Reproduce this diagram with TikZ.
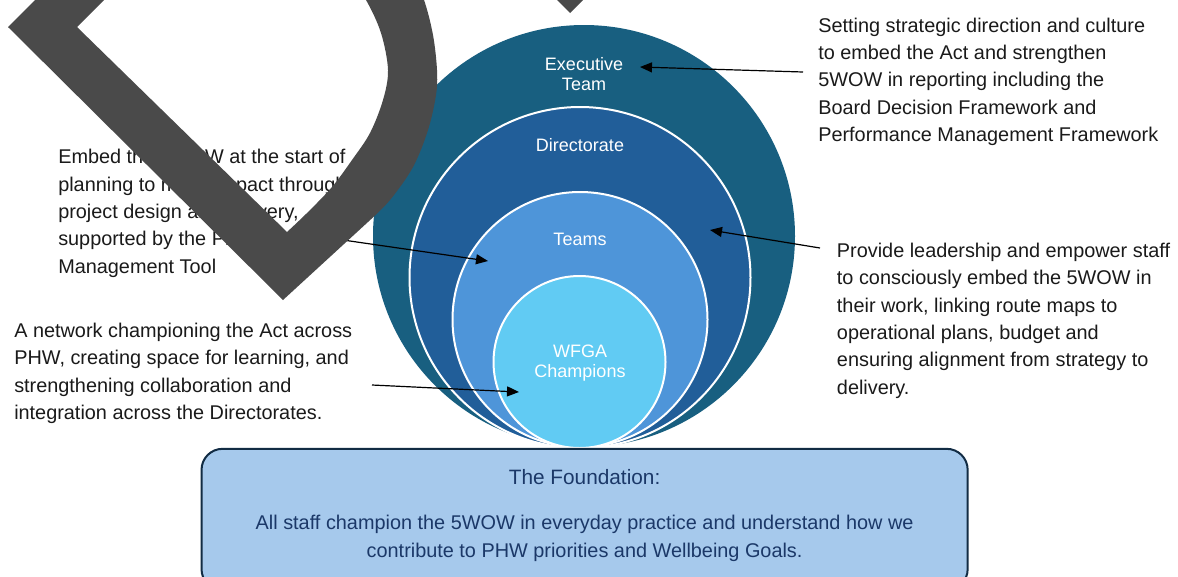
\documentclass[tikz,border=0pt]{standalone}
\usepackage{fontspec}
\setmainfont{Liberation Sans}
\usetikzlibrary{arrows.meta}

\definecolor{execblue}{HTML}{185F80}
\definecolor{dirblue}{HTML}{215E99}
\definecolor{teamblue}{HTML}{4E95D9}
\definecolor{champblue}{HTML}{61CBF3}
\definecolor{foundfill}{HTML}{A6C9EC}
\definecolor{foundedge}{HTML}{122C44}
\definecolor{foundtext}{HTML}{1B3868}
\definecolor{markgray}{HTML}{4A4A4A}
\definecolor{bodytext}{HTML}{1A1A1A}

\begin{document}
\begin{tikzpicture}[x=0.75pt,y=-0.75pt,
  % multi-line nodes are placed by the baseline of their last line
  callout/.style={anchor=base west, inner sep=0pt, align=left, text=bodytext,
    font=\fontsize{14.9}{20.5}\selectfont},
  ringlabel/.style={anchor=base, inner sep=0pt, align=center, text=white,
    font=\fontsize{13.5}{15.2}\selectfont},
  pointer/.style={-{Triangle[length=9pt,width=7.5pt]}, line width=0.9pt, black},
  ring/.style={draw=white, line width=1.5pt},
  foundation/.style={draw=foundedge, fill=foundfill, line width=1.5pt,
    rounded corners=15.75pt, minimum width=574.6pt, minimum height=106pt,
    inner sep=0pt},
  foundtitle/.style={anchor=base, inner sep=0pt, text=foundtext,
    font=\fontsize{15.6}{18}\selectfont},
  foundbody/.style={anchor=base, inner sep=0pt, align=center, text=foundtext,
    font=\fontsize{14.9}{21.3}\selectfont}]

\useasboundingbox (0,0) rectangle (1178,576);
\clip (0,0) rectangle (1178,576);

% nested circles, all resting on the same bottom line
\fill[execblue] (584,236) circle (211);
\filldraw[fill=dirblue, ring] (580,277.5) circle (170.5);
\filldraw[fill=teamblue, ring] (580,319.5) circle (127.5);
\filldraw[fill=champblue, ring] (579.5,362) circle (86);

\node[ringlabel] (exec) at (584,90.7) {Executive\\Team};
\node[ringlabel] (dir) at (580,151.7) {Directorate};
\node[ringlabel] (teams) at (580,245.7) {Teams};
\node[ringlabel] (champ) at (580,377.3) {WFGA\\Champions};

% foundation panel
\node[foundation] (found) at (584.6,519.5) {};
\node[foundtitle] (foundhead) at (584.6,484.3) {The Foundation:};
\node[foundbody] (foundtxt) at (584.6,557.7)
  {All staff champion the 5WOW in everyday practice and understand how we\\
   contribute to PHW priorities and Wellbeing Goals.};

% explanatory texts
\node[callout] (exectext) at (818,141.6)
  {Setting strategic direction and culture\\to embed the Act and strengthen\\5WOW in reporting including the\\Board Decision Framework and\\Performance Management Framework};
\node[callout] (dirtext) at (836.7,394.3)
  {Provide leadership and empower staff\\to consciously embed the 5WOW in\\their work, linking route maps to\\operational plans, budget and\\ensuring alignment from strategy to\\delivery.};
\node[callout] (teamtext) at (58,273)
  {Embed the 5WOW at the start of\\planning to make impact through\\project design and delivery,\\supported by the Project\\Management Tool};
\node[callout] (champtext) at (14,419.5)
  {A network championing the Act across\\PHW, creating space for learning, and\\strengthening collaboration and\\integration across the Directorates.};

% pointers from texts to circles
\coordinate (execfrom) at (803,72);
\coordinate (execto) at (640,67);
\coordinate (dirfrom) at (820,248);
\coordinate (dirto) at (710,230);
\coordinate (teamfrom) at (343,240);
\coordinate (teamto) at (488,261);
\coordinate (champfrom) at (372,385);
\coordinate (champto) at (519,392);
\draw[pointer] (execfrom) -- (execto);
\draw[pointer] (dirfrom) -- (dirto);
\draw[pointer] (teamfrom) -- (teamto);
\draw[pointer] (champfrom) -- (champto);

% large grey outline mark: outer contour, then the hollow inside
\fill[markgray, even odd rule]
  (60,-25) -- (8,27) -- (283,300) -- (368,222)
  -- plot[smooth, tension=0.55] coordinates {(368,222) (390,200) (413,167)
      (428,130) (436,95) (437,70) (433,35) (424,0) (410,-30)}
  -- cycle
  (129,-25) -- (77,27) -- (287,232)
  -- plot[smooth, tension=0.55] coordinates {(287,232) (307,213) (332,187)
      (352,160) (370,133) (383,100) (388,70) (381,33) (366,0) (345,-30)}
  -- cycle;
\fill[markgray] (547,-10) -- (593,-10) -- (570,13) -- cycle;
\end{tikzpicture}
\end{document}
